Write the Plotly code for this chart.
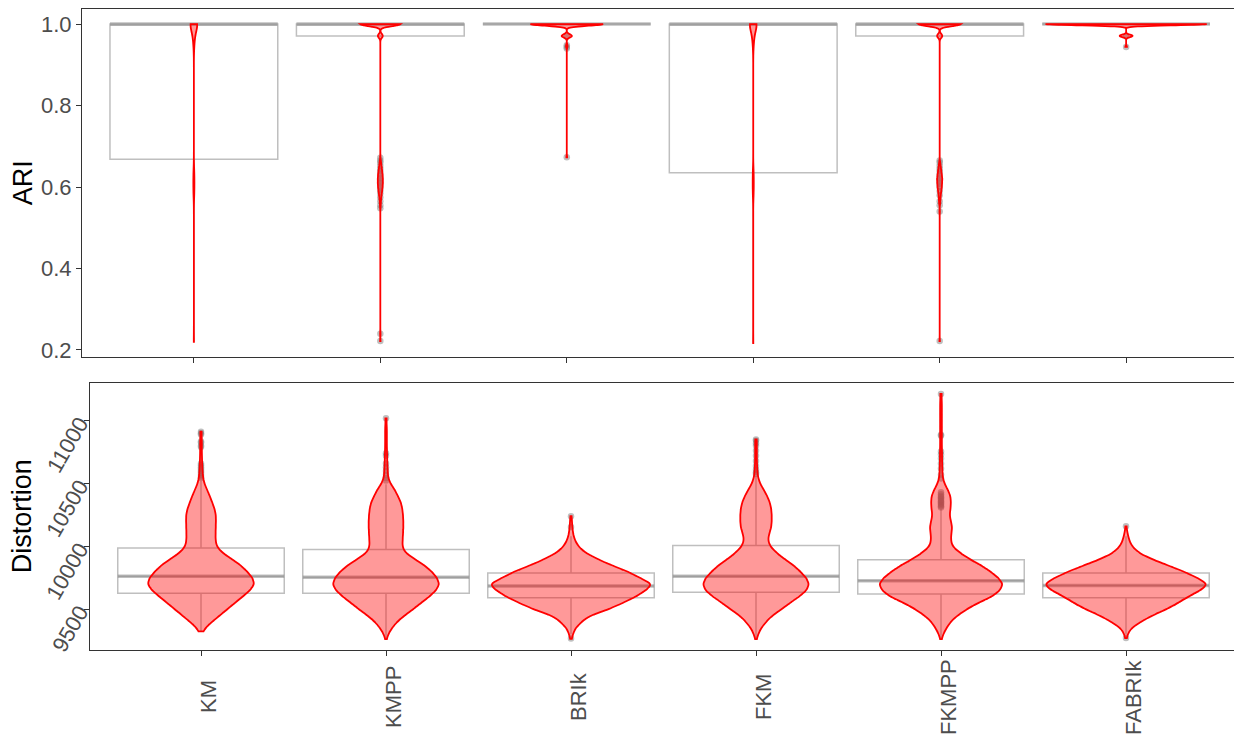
import numpy as np
import plotly.graph_objects as go

methods = ["KM", "KMPP", "BRIk", "FKM", "FKMPP", "FABRIk"]

# ---------------- ARI : boxplot statistics ----------------
ari_q1 = [0.668, 0.971, 1.0, 0.635, 0.971, 1.0]
ari_median = [1.0, 1.0, 1.0, 1.0, 1.0, 1.0]
ari_q3 = [1.0, 1.0, 1.0, 1.0, 1.0, 1.0]
ari_lower = [0.220, 0.971, 1.0, 0.217, 0.971, 1.0]
ari_upper = [1.0, 1.0, 1.0, 1.0, 1.0, 1.0]

# ARI outliers
ari_out_KM = []
ari_out_KMPP = [0.672, 0.665, 0.660, 0.652, 0.645, 0.638, 0.630, 0.622, 0.615, 0.608,
                0.600, 0.592, 0.585, 0.575, 0.565, 0.555, 0.548, 0.240, 0.222]
ari_out_BRIk = [0.971, 0.948, 0.944, 0.940, 0.673]
ari_out_FKM = []
ari_out_FKMPP = [0.665, 0.660, 0.652, 0.645, 0.638, 0.630, 0.622, 0.615, 0.608, 0.600,
                 0.590, 0.580, 0.565, 0.555, 0.540, 0.222]
ari_out_FABRIk = [0.971, 0.944]

# ARI distributions (value levels and estimated counts)
ari_vals_KM = [1.0, 0.98, 0.96, 0.94, 0.64, 0.62, 0.60, 0.58, 0.220]
ari_cnts_KM = [40, 12, 6, 2, 3, 4, 4, 3, 1]
ari_vals_KMPP = [1.0, 0.971, 0.67, 0.66, 0.65, 0.64, 0.63, 0.62, 0.61, 0.60, 0.59, 0.58,
                 0.57, 0.56, 0.55, 0.240, 0.222]
ari_cnts_KMPP = [100, 12, 1, 3, 5, 7, 9, 10, 10, 9, 7, 5, 3, 2, 1, 1, 1]
ari_vals_BRIk = [1.0, 0.971, 0.946, 0.673]
ari_cnts_BRIk = [100, 14, 2, 1]
ari_vals_FKM = [1.0, 0.98, 0.96, 0.94, 0.64, 0.62, 0.60, 0.58, 0.217]
ari_cnts_FKM = [40, 12, 6, 2, 3, 4, 4, 3, 1]
ari_vals_FKMPP = [1.0, 0.971, 0.66, 0.65, 0.64, 0.63, 0.62, 0.61, 0.60, 0.59, 0.58, 0.57,
                  0.56, 0.54, 0.222]
ari_cnts_FKMPP = [100, 12, 2, 4, 6, 8, 10, 9, 8, 6, 4, 3, 2, 1, 1]
ari_vals_FABRIk = [1.0, 0.971, 0.944]
ari_cnts_FABRIk = [100, 8, 1]

# ---------------- Distortion : boxplot statistics ----------------
dist_q1 = [9627, 9627, 9592, 9635, 9621, 9592]
dist_median = [9762, 9754, 9685, 9762, 9727, 9688]
dist_q3 = [9987, 9976, 9788, 10008, 9894, 9788]
dist_lower = [9324, 9263, 9300, 9263, 9263, 9300]
dist_upper = [10520, 10495, 10080, 10560, 10300, 10080]

# Distortion outliers
dist_out_KM = [10912, 10900, 10890, 10835, 10825, 10800, 10790, 10660, 10645, 10630,
               10615, 10600, 10585, 10570, 10555, 10545]
dist_out_KMPP = [11019, 10740, 10720, 10660, 10630, 10600, 10570, 10545, 10525]
dist_out_BRIk = [10240, 10155, 9268]
dist_out_FKM = [10851, 10840, 10820, 10800, 10760, 10720, 10680, 10640, 10610, 10590, 10575]
dist_out_FKMPP = [11213, 10888, 10880, 10755, 10730, 10700, 10660, 10620, 10570, 10540,
                  10430, 10415, 10400, 10390, 10380, 10370, 10360, 10350, 10340, 10330,
                  10320, 10310]
dist_out_FABRIk = [10160, 9271]

# Distortion distributions (value levels and estimated counts)
dist_vals_KM = [9324, 9350, 9400, 9450, 9500, 9550, 9600, 9650, 9700, 9750,
                9800, 9850, 9900, 9950, 10000, 10050, 10100, 10150, 10200, 10250,
                10300, 10350, 10400, 10450, 10500, 10550, 10600, 10650, 10700, 10750,
                10800, 10850, 10912]
dist_cnts_KM = [5, 22, 65, 110, 155, 200, 245, 290, 317, 305,
                272, 235, 180, 125, 92, 86, 86, 87, 88, 88,
                80, 66, 52, 36, 20, 12, 9, 7, 6, 5,
                5, 5, 5]
dist_vals_KMPP = [9263, 9300, 9350, 9400, 9450, 9500, 9550, 9600, 9650, 9700,
                  9750, 9800, 9850, 9900, 9950, 10000, 10050, 10100, 10150, 10200,
                  10250, 10300, 10350, 10400, 10450, 10500, 10550, 10600, 10650, 10700,
                  10750, 10800, 10850, 10900, 10950, 11019]
dist_cnts_KMPP = [2, 12, 35, 65, 108, 160, 205, 255, 295, 316,
                  300, 270, 225, 168, 112, 96, 98, 100, 102, 102,
                  100, 96, 88, 70, 52, 26, 12, 10, 8, 7,
                  6, 5, 5, 5, 5, 5]
dist_vals_BRIk = [9265, 9300, 9350, 9400, 9450, 9500, 9550, 9600, 9650, 9700,
                  9750, 9800, 9850, 9900, 9950, 10000, 10050, 10100, 10150, 10200,
                  10240]
dist_cnts_BRIk = [2, 10, 25, 60, 106, 215, 295, 370, 425, 470,
                  390, 325, 230, 150, 80, 42, 22, 12, 8, 5,
                  3]
dist_vals_FKM = [9263, 9300, 9350, 9400, 9450, 9500, 9550, 9600, 9650, 9700,
                 9750, 9800, 9850, 9900, 9950, 10000, 10050, 10100, 10150, 10200,
                 10250, 10300, 10350, 10400, 10450, 10500, 10550, 10600, 10650, 10700,
                 10750, 10800, 10851]
dist_cnts_FKM = [2, 12, 30, 60, 96, 150, 200, 255, 300, 315,
                 298, 262, 222, 168, 120, 84, 70, 78, 90, 93,
                 93, 90, 82, 66, 46, 24, 12, 8, 6, 5,
                 5, 5, 5]
dist_vals_FKMPP = [9263, 9300, 9350, 9400, 9450, 9500, 9550, 9600, 9650, 9700,
                   9750, 9800, 9850, 9900, 9950, 10000, 10050, 10100, 10150, 10200,
                   10250, 10300, 10350, 10400, 10450, 10500, 10550, 10600, 10650, 10700,
                   10750, 10800, 10850, 10900, 10950, 11000, 11050, 11100, 11150, 11213]
dist_cnts_FKMPP = [2, 12, 32, 56, 95, 150, 215, 300, 345, 365,
                   336, 290, 235, 165, 110, 66, 58, 60, 66, 58,
                   50, 56, 58, 56, 40, 20, 10, 8, 7, 6,
                   6, 5, 5, 5, 5, 5, 5, 5, 5, 5]
dist_vals_FABRIk = [9271, 9300, 9350, 9400, 9450, 9500, 9550, 9600, 9650, 9700,
                    9750, 9800, 9850, 9900, 9950, 10000, 10050, 10100, 10160]
dist_cnts_FABRIk = [2, 8, 30, 85, 150, 235, 300, 358, 430, 478,
                    410, 335, 240, 145, 72, 35, 18, 10, 4]

# ---------------- styling (not data) ----------------
ari_bw = [0.015, 0.005, 0.004, 0.015, 0.005, 0.003]
ari_vwidth = [0.035, 0.216, 0.39, 0.035, 0.227, 0.865]
dist_bw = [30, 30, 30, 30, 30, 30]
dist_vwidth = [0.57, 0.57, 0.855, 0.567, 0.66, 0.86]

FONT = "Liberation Sans, Arial, sans-serif"
BOX_LINE = "rgba(128,128,128,0.5)"
PT_COLOR = "rgba(128,128,128,0.5)"
V_FILL = "rgba(255,0,0,0.4)"
# the page body adds an 8 px offset; figure is sized so that it ends at the window edge
FIG_W, FIG_H = 1234, 732
ML, MR, MT, MB = 74, 4, 1, 90
PW = FIG_W - ML - MR
PH = FIG_H - MT - MB
DOM_TOP = [0.4566, 1.0]
DOM_BOT = [0.0, 0.417]
XDOM_TOP = [0.0, 1.0]
XDOM_BOT = [(82 - ML) / PW, (1229 - ML) / PW]
XRANGE = [-0.6, 5.6]
ARI_RANGE = [0.182, 1.037]
DIST_RANGE = [9176, 11302]
XLABEL_Y = -47 / PH   # centre of the rotated category labels, below the lower panel

fig = go.Figure()


def add_panel(xa, ya, xo, yo, q1, med, q3, lo, hi, outs, vals, cnts, bws, widths):
    fig.add_trace(go.Box(
        x=methods, q1=q1, median=med, q3=q3, lowerfence=lo, upperfence=hi,
        width=0.9, whiskerwidth=0, boxpoints=False,
        line=dict(color=BOX_LINE, width=1.5), fillcolor="rgba(0,0,0,0)",
        xaxis=xa, yaxis=ya, showlegend=False, hoverinfo="skip"))
    fig.add_trace(go.Box(
        x=methods, q1=med, median=med, q3=med, lowerfence=med, upperfence=med,
        width=0.9, whiskerwidth=0, boxpoints=False,
        line=dict(color=BOX_LINE, width=3.5), fillcolor="rgba(0,0,0,0)",
        xaxis=xa, yaxis=ya, showlegend=False, hoverinfo="skip"))
    px, py = [], []
    for m, o in zip(methods, outs):
        px += [m] * len(o)
        py += list(o)
    fig.add_trace(go.Scatter(
        x=px, y=py, mode="markers",
        marker=dict(color=PT_COLOR, size=6.5, line=dict(width=0)),
        xaxis=xa, yaxis=ya, showlegend=False, hoverinfo="skip"))
    for m, v, c, bw, w in zip(methods, vals, cnts, bws, widths):
        y = np.repeat(np.array(v, dtype=float), np.array(c, dtype=int))
        fig.add_trace(go.Violin(
            x=[m] * len(y), y=y, spanmode="hard", bandwidth=bw,
            scalemode="width", width=w, points=False,
            box_visible=False, meanline_visible=False,
            line=dict(color="red", width=1.8), fillcolor=V_FILL,
            xaxis=xo, yaxis=yo, showlegend=False, hoverinfo="skip"))


add_panel("x", "y", "x3", "y3", ari_q1, ari_median, ari_q3, ari_lower, ari_upper,
          [ari_out_KM, ari_out_KMPP, ari_out_BRIk, ari_out_FKM, ari_out_FKMPP, ari_out_FABRIk],
          [ari_vals_KM, ari_vals_KMPP, ari_vals_BRIk, ari_vals_FKM, ari_vals_FKMPP, ari_vals_FABRIk],
          [ari_cnts_KM, ari_cnts_KMPP, ari_cnts_BRIk, ari_cnts_FKM, ari_cnts_FKMPP, ari_cnts_FABRIk],
          ari_bw, ari_vwidth)
add_panel("x2", "y2", "x4", "y4", dist_q1, dist_median, dist_q3, dist_lower, dist_upper,
          [dist_out_KM, dist_out_KMPP, dist_out_BRIk, dist_out_FKM, dist_out_FKMPP, dist_out_FABRIk],
          [dist_vals_KM, dist_vals_KMPP, dist_vals_BRIk, dist_vals_FKM, dist_vals_FKMPP, dist_vals_FABRIk],
          [dist_cnts_KM, dist_cnts_KMPP, dist_cnts_BRIk, dist_cnts_FKM, dist_cnts_FKMPP, dist_cnts_FABRIk],
          dist_bw, dist_vwidth)

axis_common = dict(showline=True, mirror=True, linecolor="#333333", linewidth=1.1,
                   ticks="outside", ticklen=5, tickcolor="#333333", tickwidth=1.1,
                   showgrid=False, zeroline=False, automargin=False,
                   tickfont=dict(family=FONT, size=22, color="#4D4D4D"))
cat_common = dict(type="category", categoryorder="array", categoryarray=methods, range=XRANGE)

annotations = [
    dict(text="ARI", xref="paper", yref="paper", x=(15 - ML) / PW, y=sum(DOM_TOP) / 2,
         textangle=-90, showarrow=False, xanchor="center", yanchor="middle",
         font=dict(family=FONT, size=27, color="black")),
    dict(text="Distortion", xref="paper", yref="paper", x=(14 - ML) / PW, y=sum(DOM_BOT) / 2,
         textangle=-90, showarrow=False, xanchor="center", yanchor="middle",
         font=dict(family=FONT, size=27, color="black")),
]
for m in methods:
    annotations.append(dict(
        text=m, xref="x2", yref="paper", x=m, y=XLABEL_Y, xshift=7,
        textangle=-90, showarrow=False, xanchor="center", yanchor="middle",
        font=dict(family=FONT, size=22, color="#4D4D4D")))

fig.update_layout(
    width=FIG_W, height=FIG_H,
    margin=dict(l=ML, r=MR, t=MT, b=MB),
    paper_bgcolor="white", plot_bgcolor="white",
    boxmode="overlay", violinmode="overlay",
    font=dict(family=FONT),
    xaxis=dict(domain=XDOM_TOP, anchor="y", showticklabels=False, **cat_common, **axis_common),
    yaxis=dict(domain=DOM_TOP, anchor="x", range=ARI_RANGE,
               tickvals=[0.2, 0.4, 0.6, 0.8, 1.0], tickformat=".1f", **axis_common),
    xaxis2=dict(domain=XDOM_BOT, anchor="y2", showticklabels=False, **cat_common, **axis_common),
    yaxis2=dict(domain=DOM_BOT, anchor="x2", range=DIST_RANGE,
                tickvals=[9500, 10000, 10500, 11000], tickformat="d", tickangle=-60,
                **axis_common),
    xaxis3=dict(overlaying="x", anchor="y3", visible=False, automargin=False, **cat_common),
    yaxis3=dict(overlaying="y", anchor="x3", visible=False, automargin=False, range=ARI_RANGE),
    xaxis4=dict(overlaying="x2", anchor="y4", visible=False, automargin=False, **cat_common),
    yaxis4=dict(overlaying="y2", anchor="x4", visible=False, automargin=False, range=DIST_RANGE),
    annotations=annotations,
)

fig.write_html("out.html")
